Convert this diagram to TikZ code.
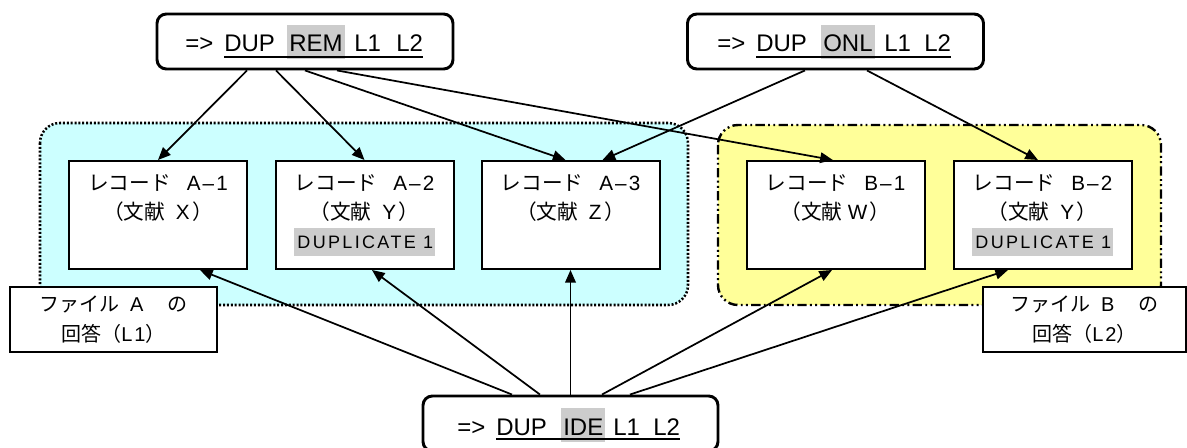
\documentclass[tikz,border=0pt]{standalone}
\usepackage{fontspec}
\setmainfont{Liberation Sans}
\newfontfamily\jp{Noto Sans CJK JP}
\newfontfamily\lat[LetterSpace=10]{Liberation Sans}
\newfontfamily\latw[LetterSpace=13]{Liberation Sans}
\usetikzlibrary{arrows.meta}
\definecolor{regcyan}{RGB}{204,255,255}
\definecolor{regyellow}{RGB}{255,255,153}
\definecolor{hlgray}{RGB}{204,204,204}
\newcommand\dupbox{{\setlength\fboxsep{0pt}\colorbox{hlgray}{\hspace{2.25pt}\rule[-5.25pt]{0pt}{21pt}{\fontsize{13.5}{16}\latw DUPLICATE 1}\hspace{1pt}}}}
\newcommand\dupstrut{\rule[-5.25pt]{0pt}{21pt}}
\tikzset{
  cmdbox/.style={draw, line width=2.2pt, rounded corners=7pt, fill=white, minimum width=222pt, minimum height=41.25pt, inner sep=0pt},
  cmdtxt/.style={font=\fontsize{18}{20}\selectfont, inner sep=0pt, anchor=base west},
  cmdhl/.style={cmdtxt, fill=hlgray, inner xsep=1.5pt, inner ysep=0pt, text height=20.25pt, text depth=5pt},
  ul/.style={line width=1.5pt},
  rec/.style={draw, fill=white, line width=1.5pt, minimum width=133.5pt, minimum height=81pt, align=center, font=\fontsize{15.5}{22}\selectfont, inner sep=0pt},
  lbl/.style={draw, fill=white, line width=1.3pt, align=center, font=\fontsize{15}{22}\selectfont, minimum height=48.75pt, inner sep=0pt},
  arr/.style={line width=1.3pt, -{Triangle[length=9.5pt,width=8pt]}},
}
\begin{document}
\begin{tikzpicture}[x=0.75pt,y=-0.75pt]
\useasboundingbox (0,0) rectangle (1187,448);
\clip (0,0) rectangle (1187,448);
% regions
\draw[fill=regcyan, line width=1.9pt, dash pattern=on 1.5pt off 1.4pt, rounded corners=15pt] (40,123) rectangle (688,305);
\draw[fill=regyellow, line width=1.8pt, dash pattern=on 7pt off 2.5pt on 1.4pt off 2.5pt on 1.4pt off 2.5pt, rounded corners=15pt] (718,125) rectangle (1161,305);
% command boxes
\node[cmdbox] (rem) at (305,41.5) {};
\node[cmdbox] (onl) at (835.5,41.5) {};
\node[cmdbox, minimum width=221.25pt] (ide) at (570.5,423.5) {};
% records
\node[rec] (a1) at (158,215) {{\jp レコード}\hspace{12pt}{\lat A–1}\\{\jp （文献}\hspace{8pt}{\lat X}\hspace{2pt}{\jp ）}\\\dupstrut};
\node[rec] (a2) at (364.5,215) {{\jp レコード}\hspace{12pt}{\lat A–2}\\{\jp （文献}\hspace{8pt}{\lat Y}\hspace{2pt}{\jp ）}\\\dupbox};
\node[rec] (a3) at (570.5,215) {{\jp レコード}\hspace{12pt}{\lat A–3}\\{\jp （文献}\hspace{8pt}{\lat Z}\hspace{2pt}{\jp ）}\\\dupstrut};
\node[rec] (b1) at (835.5,215) {{\jp レコード}\hspace{12pt}{\lat B–1}\\{\jp （文献}\hspace{4pt}{\lat W}\hspace{2pt}{\jp ）}\\\dupstrut};
\node[rec] (b2) at (1042.5,215) {{\jp レコード}\hspace{12pt}{\lat B–2}\\{\jp （文献}\hspace{8pt}{\lat Y}\hspace{2pt}{\jp ）}\\\dupbox};
% arrows from REM
\draw[arr] ([xshift=-43.5pt]rem.south) -- (a1.north);
\draw[arr] ([xshift=-21.75pt]rem.south) -- (a2.north);
\draw[arr] (rem.south) -- ([xshift=-3.75pt]a3.north);
\draw[arr] ([xshift=24pt]rem.south) -- ([xshift=-2pt]b1.north);
% arrows from ONL
\draw[arr] ([xshift=-22.9pt]onl.south) -- ([xshift=24pt]a3.north);
\draw[arr] ([xshift=23.6pt]onl.south) -- ([xshift=-3.4pt]b2.north);
% arrows from IDE
\draw[arr] ([xshift=-43.9pt]ide.north) -- ([xshift=31.5pt]a1.south);
\draw[arr] ([xshift=-22.9pt]ide.north) -- ([xshift=5.6pt]a2.south);
\draw[arr] (ide.north) -- (a3.south);
\draw[arr] ([xshift=23.6pt]ide.north) -- ([xshift=-2.6pt]b1.south);
\draw[arr] ([xshift=44.6pt]ide.north) -- ([xshift=-25.9pt]b2.south);
% file labels
\node[lbl, minimum width=155.25pt] (la) at (113.5,319.5) {{\jp ファイル}\hspace{8pt}{\lat A}\hspace{18pt}{\jp の}\\{\jp 回答（}{\lat L1}{\jp ）}};
\node[lbl, minimum width=152.25pt] (lb) at (1084.5,319.5) {{\jp ファイル}\hspace{8pt}{\lat B}\hspace{18pt}{\jp の}\\{\jp 回答（}{\lat L2}{\jp ）}};
% command texts
\node[cmdtxt] (remt1) at (185,52) {=>};
\node[cmdtxt] (remt2) at (224,52) {DUP};
\node[cmdhl] (remt3) at (287,52) {REM};
\node[cmdtxt] (remt4) at (354,52) {L1};
\node[cmdtxt] (remt5) at (396,52) {L2};
\draw[ul] ([yshift=-3.75pt]remt2.base west) -- ([yshift=-3.75pt]remt5.base east);
\node[cmdtxt] (onlt1) at (717,52) {=>};
\node[cmdtxt] (onlt2) at (756,52) {DUP};
\node[cmdhl] (onlt3) at (821,52) {ONL};
\node[cmdtxt] (onlt4) at (884,52) {L1};
\node[cmdtxt] (onlt5) at (924,52) {L2};
\draw[ul] ([yshift=-3.75pt]onlt2.base west) -- ([yshift=-3.75pt]onlt5.base east);
\node[cmdtxt] (idet1) at (457,435) {=>};
\node[cmdtxt] (idet2) at (496,435) {DUP};
\node[cmdhl] (idet3) at (561,435) {IDE};
\node[cmdtxt] (idet4) at (613,435) {L1};
\node[cmdtxt] (idet5) at (653,435) {L2};
\draw[ul] ([yshift=-3pt]idet2.base west) -- ([yshift=-3pt]idet5.base east);
\end{tikzpicture}
\end{document}
